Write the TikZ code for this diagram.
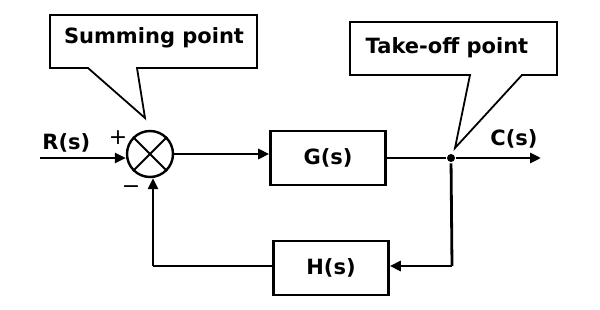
\documentclass[tikz,border=0pt]{standalone}
\usepackage{fontspec}
\setmainfont{DejaVu Sans}
\usetikzlibrary{arrows.meta,calc}
\begin{document}
\begin{tikzpicture}[x=1pt,y=-1pt,
  line width=2.8pt,
  arr/.style={-{Triangle[length=11pt,width=10pt]}},
  blk/.style={draw,line width=2.6pt,minimum width=115pt,minimum height=54pt,font=\bfseries\fontsize{21}{24}\selectfont},
  lbl/.style={font=\bfseries\fontsize{21}{24}\selectfont,inner sep=0pt},
  calloutline/.style={draw,line width=1.8pt,line join=miter},
  callout/.style={font=\bfseries\fontsize{21}{24}\selectfont,inner sep=0pt}]
\useasboundingbox (0,0) rectangle (600,310);
% summing junction
\node[draw,circle,minimum size=46pt,inner sep=0pt,line width=2.4pt] (sum) at (150,154) {};
\draw[line width=1.8pt] (sum.north west) -- (sum.south east) (sum.north east) -- (sum.south west);
% blocks
\node[blk] (G) at (328,158) {G(s)};
\node[blk] (H) at (331,268) {H(s)};
% takeoff point
\node[circle,fill,inner sep=0pt,minimum size=8pt] (tp) at (451,158) {};
\coordinate (in) at (40,158);
\coordinate (out) at (541,158);
\coordinate (br) at (452,266);
\coordinate (bl) at (153,266);
% connectors
\draw[arr] (in) -- (sum.west|-in);
\draw[arr] (sum.east) -- (G.west|-sum.east);
\draw (G.east|-tp) -- (tp);
\draw[arr] (tp) -- (out);
\draw (tp) -- (br);
\draw[arr] (br) -- (H.east|-br);
\draw (H.west|-bl) -- (bl);
\draw[arr] (bl) -- (sum.south-|bl);
% labels
\node[lbl,anchor=west] (R) at (41,143) {R(s)};
\node[lbl,anchor=west] (C) at (489,139) {C(s)};
\node[font=\fontsize{22}{22}\selectfont,inner sep=0pt] (plus) at (118,138) {+};
\node[font=\fontsize{22}{22}\selectfont,inner sep=0pt] (minus) at (131,190) {−};
% callouts
\node[callout] (sp) at (154,38) {Summing point};
\coordinate (spnw) at (50,15);
\coordinate (spse) at (257,68);
\coordinate (sptip) at (145,118);
\draw[calloutline] (spnw) -- (spnw-|spse) -- (spse) -- (137,68) -- (sptip) -- (88,68) -- (spnw|-spse) -- cycle;
\node[callout] (to) at (447,48) {Take-off point};
\coordinate (tonw) at (350,22);
\coordinate (tose) at (557,75);
\coordinate (totip) at (455,148);
\draw[calloutline] (tonw) -- (tonw-|tose) -- (tose) -- (522,75) -- (totip) -- (470,75) -- (tonw|-tose) -- cycle;
\end{tikzpicture}
\end{document}
